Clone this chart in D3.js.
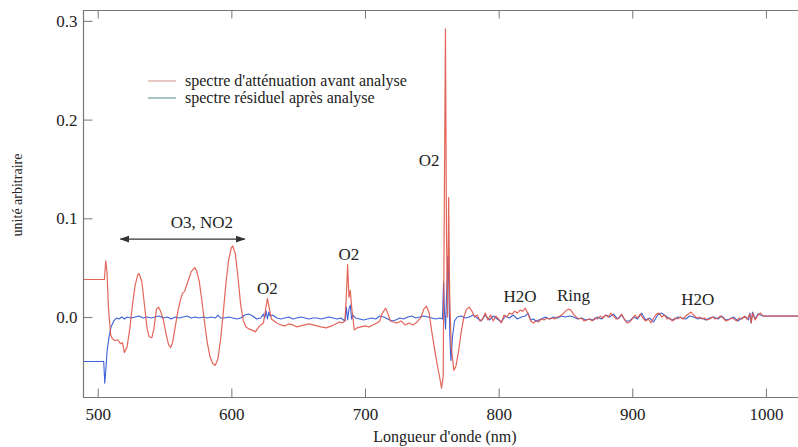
<!DOCTYPE html>
<html>
<head>
<meta charset="utf-8">
<script src="https://cdn.jsdelivr.net/npm/d3@7/dist/d3.min.js"></script>
<style>
  html, body { margin: 0; padding: 0; background: #fff; }
  svg { display: block; }
</style>
</head>
<body>
<svg id="chart" width="798" height="447"></svg>
<script>
// ---- data ----
const xTicks = [500, 600, 700, 800, 900, 1000];
const yTicks = [0.0, 0.1, 0.2, 0.3];
const seriesNames = ["spectre d'atténuation avant analyse", "spectre résiduel après analyse"];

const redWl = [489,505,506,507,508,509.7,511,513,515,517,518.5,520,522,524,526,528,530,531,533,535,537,538.5,540.5,542,544,545.5,547,549,551,553,554.6,556,558,560,562,563.5,565,566,568,570,572.6,574,576,578,580,582,584,586,588,590,592,594,596,598,600,601,603,605,607,609,611,613,615,618,620,622,624,625.5,627,628.5,630,632,634,637,640,643,646,649,652,655,658,661,664,667,671,675,678,681,683,685,686,687,688,689,690,692,694,697,700,703,706,709,711,713,715.5,717,719,721,724,727,730,733,736,739,742,744,746,748,750,752,754,756,757.3,758.5,759.3,760.2,761,761.8,762.6,763.4,764.5,766.5,768,770,772,774,776,778,780,782,784,786,788,790,792,794,796,798,800,802,804,806,808,810,812,814,816,818,820,822,824,826,828,830,832,834,836,838,840,842,844,846,848,850,852,854,856,858,860,862,864,866,868,870,872,874,876,878,880,882,884,886,888,890,892,894,896,898,900,902,904,906,908,910,912,914,916,918,920,922,924,926,928,930,932,934,936,938,940,942,944,946,948,950,952,954,956,958,960,962,964,966,968,970,972,974,976,978,980,982,984,986,988,989,990,992,994,996,998,1000,1024];
const redVal = [0.038,0.038,0.057,0.045,0.010,-0.018,-0.022,-0.024,-0.023,-0.027,-0.026,-0.036,-0.030,-0.012,0.012,0.032,0.043,0.044,0.036,0.012,-0.012,-0.020,-0.021,-0.012,0.008,0.010,0.006,-0.002,-0.016,-0.028,-0.031,-0.026,-0.010,0.006,0.018,0.024,0.026,0.030,0.038,0.046,0.050,0.047,0.036,0.016,-0.006,-0.026,-0.040,-0.047,-0.049,-0.042,-0.022,0.005,0.035,0.058,0.070,0.072,0.064,0.040,0.012,-0.004,-0.010,-0.012,-0.013,-0.015,-0.011,-0.008,-0.006,0.006,0.019,0.008,-0.002,-0.004,-0.006,-0.008,-0.009,-0.007,-0.008,-0.010,-0.009,-0.008,-0.007,-0.008,-0.009,-0.010,-0.011,-0.009,-0.007,-0.005,-0.006,-0.004,0.020,0.053,0.020,0.027,0.010,-0.013,-0.011,-0.010,-0.009,-0.010,-0.008,-0.006,-0.004,0.004,0.009,0.004,-0.004,-0.005,-0.006,-0.004,-0.008,-0.006,-0.008,-0.005,0.000,0.008,0.011,0.004,-0.015,-0.032,-0.048,-0.062,-0.072,-0.060,0.100,0.292,0.080,0.000,0.121,0.020,-0.030,-0.054,-0.050,-0.035,-0.015,0.000,0.008,0.010,0.006,0.000,0.002,-0.004,-0.002,0.004,-0.003,0.002,-0.004,0.001,-0.002,-0.006,0.002,0.000,0.004,0.003,0.006,0.004,0.007,0.006,0.009,0.003,-0.004,-0.006,-0.004,-0.005,-0.002,-0.003,-0.001,-0.002,-0.001,-0.002,0.000,0.001,0.003,0.006,0.008,0.007,0.003,0.000,-0.002,-0.001,-0.004,-0.003,-0.002,-0.004,-0.001,-0.002,0.001,-0.001,0.002,0.000,0.004,0.001,-0.002,-0.001,0.003,-0.002,-0.006,-0.005,-0.002,0.002,-0.001,0.003,-0.001,-0.004,-0.002,-0.006,-0.001,0.003,0.004,0.000,0.002,-0.002,-0.001,-0.004,-0.001,-0.002,0.000,-0.002,0.001,0.003,0.005,0.002,-0.001,0.000,-0.002,-0.001,-0.003,-0.002,0.000,-0.002,-0.001,0.001,-0.001,-0.004,-0.003,-0.001,-0.002,-0.004,-0.001,-0.002,0.001,-0.002,0.003,-0.006,0.004,-0.003,0.002,0.004,0.001,0.001,0.001];

const blueWl = [489,504.5,505.3,506,507,508.5,510,512,514,516,518,520,522,525,528,531,534,537,540,543,546,549,552,555,558,561,564,567,570,573,576,579,582,585,588,590,592,595,598,601,604,607,610,613,616,619,622,624,625,626,627,628,629,631,634,637,640,643,646,649,652,655,658,661,664,667,670,673,676,679,682,684,685,686,687,688,689,690,691,693,696,699,702,705,708,711,714,717,720,723,726,729,732,735,738,741,744,747,750,753,756,758,758.8,759.5,760.3,761.2,762,762.8,763.5,764.3,765.5,767,769,772,775,778,781,784,787,790,793,796,799,802,805,808,811,814,817,820,822,824,826,828,830,832,835,838,841,844,847,850,853,856,859,862,865,868,871,874,877,880,883,886,889,892,895,898,901,904,907,910,913,916,919,922,925,928,931,934,937,940,943,946,949,952,955,958,961,964,967,970,973,976,979,982,985,987,988,989,990,992,994,996,998,1000,1024];
const blueVal = [-0.045,-0.045,-0.067,-0.055,-0.035,-0.020,-0.010,-0.004,-0.001,-0.002,0.000,-0.002,0.000,-0.001,0.000,0.001,-0.001,0.000,-0.001,0.000,0.001,-0.001,0.000,-0.002,0.000,-0.001,0.000,0.001,-0.001,0.000,-0.001,0.000,-0.001,0.000,-0.001,0.002,-0.001,-0.001,0.000,-0.001,-0.002,-0.001,0.002,0.003,0.001,-0.002,-0.001,0.003,-0.001,0.006,-0.002,0.005,0.001,0.002,-0.001,-0.002,-0.001,0.000,-0.002,-0.001,0.000,-0.001,-0.002,-0.001,-0.001,-0.002,-0.001,0.000,-0.001,-0.002,-0.001,-0.003,-0.004,0.010,-0.003,0.008,0.012,-0.002,0.002,-0.001,-0.002,-0.003,-0.002,-0.001,-0.002,0.001,0.000,-0.002,-0.004,-0.003,-0.001,-0.002,0.000,0.001,-0.001,0.000,0.001,0.000,-0.001,-0.002,-0.001,-0.002,0.035,0.005,-0.012,0.030,0.061,0.030,-0.020,-0.044,-0.020,-0.004,0.000,0.001,-0.001,0.000,0.002,-0.001,-0.004,0.002,-0.003,0.001,-0.002,-0.005,0.001,-0.001,0.002,-0.002,0.000,0.001,0.004,-0.003,-0.002,-0.004,-0.003,-0.002,0.000,-0.002,0.000,-0.001,0.001,0.000,0.001,0.000,-0.002,-0.001,-0.003,-0.002,-0.003,0.000,-0.002,0.002,0.000,0.003,-0.002,0.002,-0.004,-0.004,0.000,-0.002,0.004,-0.003,-0.001,-0.005,0.002,0.004,0.001,-0.002,-0.003,0.000,-0.001,-0.002,0.001,0.000,-0.002,-0.001,-0.003,-0.001,0.000,-0.002,0.001,-0.003,-0.002,0.000,-0.004,-0.001,0.000,-0.003,0.004,-0.006,0.005,-0.002,0.003,0.002,0.001,0.001,0.001];

const annotations = [
  {text: "O3, NO2", wl: 578, v: 0.090},
  {text: "O2", wl: 627, v: 0.023},
  {text: "O2", wl: 688, v: 0.058},
  {text: "O2", wl: 748, v: 0.153},
  {text: "H2O", wl: 816, v: 0.015},
  {text: "Ring", wl: 856, v: 0.016},
  {text: "H2O", wl: 949, v: 0.012}
];
const arrowRange = [517, 610];
const arrowY = 0.079;

// ---- layout ----
const FONT = "'Liberation Serif', 'Times New Roman', Times, 'DejaVu Serif', serif";
const svg = d3.select("#chart");
const mLeft = 83, mRight = 798, mTop = 10, mBottom = 397;
const x = d3.scaleLinear().domain([489, 1024]).range([mLeft, mRight]);
const y = d3.scaleLinear().domain([-0.081, 0.311]).range([mBottom, mTop]);

const defs = svg.append("defs");
defs.append("clipPath").attr("id", "clip")
  .append("rect").attr("x", mLeft).attr("y", mTop).attr("width", mRight - mLeft).attr("height", mBottom - mTop);

const red = redWl.map((w, i) => [w, redVal[i]]);
const blue = blueWl.map((w, i) => [w, blueVal[i]]);
const line = d3.line().x(d => x(d[0])).y(d => y(d[1]));

const g = svg.append("g").attr("clip-path", "url(#clip)");
g.append("path").datum(blue).attr("d", line)
  .attr("fill", "none").attr("stroke", "#3c62d8").attr("stroke-width", 1.1).attr("stroke-linejoin", "round");
g.append("path").datum(red).attr("d", line)
  .attr("fill", "none").attr("stroke", "#e05548").attr("stroke-width", 1.2).attr("stroke-linejoin", "round")
  .attr("stroke-opacity", 0.9);

// frame
const frameColor = "#777";
svg.append("line").attr("x1", mLeft).attr("x2", mRight).attr("y1", mTop + 0.5).attr("y2", mTop + 0.5).attr("stroke", frameColor).attr("stroke-width", 1.2);
svg.append("line").attr("x1", mLeft).attr("x2", mRight).attr("y1", mBottom + 0.5).attr("y2", mBottom + 0.5).attr("stroke", frameColor).attr("stroke-width", 1.2);
svg.append("line").attr("x1", mLeft + 0.5).attr("x2", mLeft + 0.5).attr("y1", mTop).attr("y2", mBottom).attr("stroke", frameColor).attr("stroke-width", 1.2);

// axes (inward ticks)
const xBottom = svg.append("g").attr("transform", `translate(0,${mBottom + 0.5})`)
  .call(d3.axisBottom(x).tickValues(xTicks).tickSize(-9).tickPadding(10).tickFormat(d3.format("d")));
const xTopAxis = svg.append("g").attr("transform", `translate(0,${mTop + 0.5})`)
  .call(d3.axisTop(x).tickValues(xTicks).tickSize(-8).tickFormat(""));
const yLeft = svg.append("g").attr("transform", `translate(${mLeft + 0.5},0)`)
  .call(d3.axisLeft(y).tickValues(yTicks).tickSize(-9).tickPadding(6).tickFormat(d3.format(".1f")));

[xBottom, xTopAxis, yLeft].forEach(a => {
  a.attr("font-family", null).attr("font-size", null);
  a.select(".domain").remove();
  a.selectAll(".tick line").attr("stroke", "#777").attr("stroke-width", 1);
  a.selectAll(".tick text").style("font-size", "17px").style("fill", "#222").style("font-family", FONT);
});

// axis titles
svg.append("text").attr("x", 445).attr("y", 442).attr("text-anchor", "middle")
  .style("font-family", FONT).style("font-size", "16px").style("fill", "#222").text("Longueur d'onde (nm)");
svg.append("text").attr("transform", "translate(22,195) rotate(-90)").attr("text-anchor", "middle")
  .style("font-family", FONT).style("font-size", "14px").style("fill", "#222").text("unité arbitraire");

// legend
const legend = svg.append("g");
const legColors = ["#d9a49c", "#6f9b9b"];
seriesNames.forEach((name, i) => {
  const ly = 81 + i * 17;
  legend.append("line").attr("x1", 148).attr("x2", 176).attr("y1", ly).attr("y2", ly)
    .attr("stroke", legColors[i]).attr("stroke-width", 1.2);
  legend.append("text").attr("x", 185).attr("y", ly + 4.5)
    .style("font-family", FONT).style("font-size", "16px").style("fill", "#222").text(name);
});

// annotations
annotations.forEach(a => {
  svg.append("text").attr("x", x(a.wl)).attr("y", y(a.v)).attr("text-anchor", "middle")
    .style("font-family", FONT).style("font-size", "17px").style("fill", "#222").text(a.text);
});

// double arrow
defs.append("marker").attr("id", "arr").attr("viewBox", "0 0 10 10").attr("refX", 9).attr("refY", 5)
  .attr("markerWidth", 8).attr("markerHeight", 8).attr("orient", "auto-start-reverse")
  .append("path").attr("d", "M0,1.5 L10,5 L0,8.5 Z").attr("fill", "#333");
svg.append("line").attr("x1", x(arrowRange[0])).attr("x2", x(arrowRange[1]))
  .attr("y1", y(arrowY)).attr("y2", y(arrowY))
  .attr("stroke", "#333").attr("stroke-width", 1.2)
  .attr("marker-start", "url(#arr)").attr("marker-end", "url(#arr)");
</script>
</body>
</html>
